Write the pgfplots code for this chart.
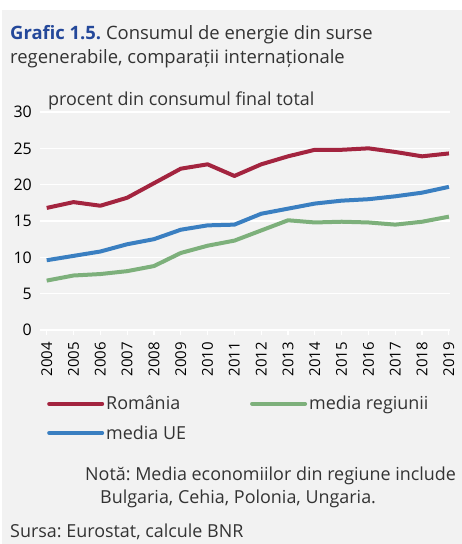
\documentclass[border=0pt]{standalone}
\usepackage{pgfplots}
\pgfplotsset{compat=1.18}
\usepackage{fontspec}
\setmainfont{Open Sans}
\frenchspacing
\definecolor{bg}{HTML}{F2F2F2}
\definecolor{rored}{HTML}{A3243F}
\definecolor{eublue}{HTML}{3A7FC1}
\definecolor{regreen}{HTML}{7DB07B}
\definecolor{titleblue}{HTML}{24489A}
\definecolor{txt}{HTML}{333333}
\newcommand\fs{\fontsize{18}{21}\selectfont}
\pgfplotstableread{
year ro reg eu
2004 16.8 6.8 9.6
2005 17.6 7.5 10.2
2006 17.1 7.7 10.8
2007 18.2 8.1 11.8
2008 20.2 8.8 12.5
2009 22.2 10.6 13.8
2010 22.8 11.6 14.4
2011 21.2 12.3 14.5
2012 22.8 13.7 16.0
2013 23.9 15.1 16.7
2014 24.8 14.8 17.4
2015 24.8 14.9 17.8
2016 25.0 14.8 18.0
2017 24.5 14.5 18.4
2018 23.9 14.9 18.9
2019 24.3 15.6 19.7
}\datatable
\begin{document}
\begin{tikzpicture}
\path[fill=white] (0bp,0bp) rectangle (462bp,-544bp);
\path[fill=bg] (2bp,-10bp) rectangle (462bp,-544bp);
\node[anchor=base west, inner sep=0pt, font=\fontsize{18.5}{21}\selectfont, text=txt] at (10bp,-39bp) {\textcolor{titleblue}{\textbf{Grafic 1.5.}} Consumul de energie din surse};
\node[anchor=base west, inner sep=0pt, font=\fontsize{18.5}{21}\selectfont, text=txt] at (10bp,-63bp) {regenerabile, comparații internaționale};
\node[anchor=base west, inner sep=0pt, font=\fs, text=txt] at (48bp,-105bp) {procent din consumul final total};
\begin{axis}[
  at={(40bp,-330bp)}, anchor=south west,
  scale only axis, width=410bp, height=218bp,
  xmin=2003.75, xmax=2019.04, ymin=0, ymax=30,
  ytick={0,5,...,30}, xtick={2004,...,2019},
  axis x line*=bottom, axis y line*=left,
  y axis line style={draw=none},
  x axis line style={white, line width=1.5bp},
  ymajorgrids, grid style={white, line width=1.5bp},
  ytick style={draw=none},
  xtick style={white, line width=1.2bp},
  tick align=outside, major tick length=5bp,
  xticklabel style={rotate=90, anchor=east, inner sep=0pt, font=\fontsize{15}{18}\selectfont, text=black},
  yticklabel style={anchor=east, inner sep=0pt, font=\fontsize{16}{18}\selectfont, text=black},
  yticklabel shift=3bp,
  xticklabel shift=7bp,
  /pgf/number format/assume math mode=true,
  xticklabel={\pgfmathprintnumber[1000 sep={}]{\tick}},
  legend columns=2,
  legend cell align=left,
  legend style={draw=none, fill=none, at={(0,0)}, anchor=north west, xshift=4bp, yshift=-62bp,
    font=\fs, text=txt, row sep=10bp,
    /tikz/every even column/.append style={column sep=62bp}},
  legend image code/.code={\draw[#1, line width=4bp, line cap=round] (0bp,0bp) -- (53bp,0bp);},
]
\addplot[rored, line width=4bp, line join=round] table[x=year, y=ro] {\datatable};
\addlegendentry{România}
\addplot[regreen, line width=4bp, line join=round] table[x=year, y=reg] {\datatable};
\addlegendentry{media regiunii}
\addplot[eublue, line width=4bp, line join=round] table[x=year, y=eu] {\datatable};
\addlegendentry{media UE}
\end{axis}
\node[anchor=base west, inner sep=0pt, font=\fs, text=txt] at (85bp,-480bp) {Notă: Media economiilor din regiune include};
\node[anchor=base west, inner sep=0pt, font=\fs, text=txt] at (100bp,-503bp) {Bulgaria, Cehia, Polonia, Ungaria.};
\node[anchor=base west, inner sep=0pt, font=\fs, text=txt] at (10bp,-537bp) {Sursa: Eurostat, calcule BNR};
\end{tikzpicture}
\end{document}
